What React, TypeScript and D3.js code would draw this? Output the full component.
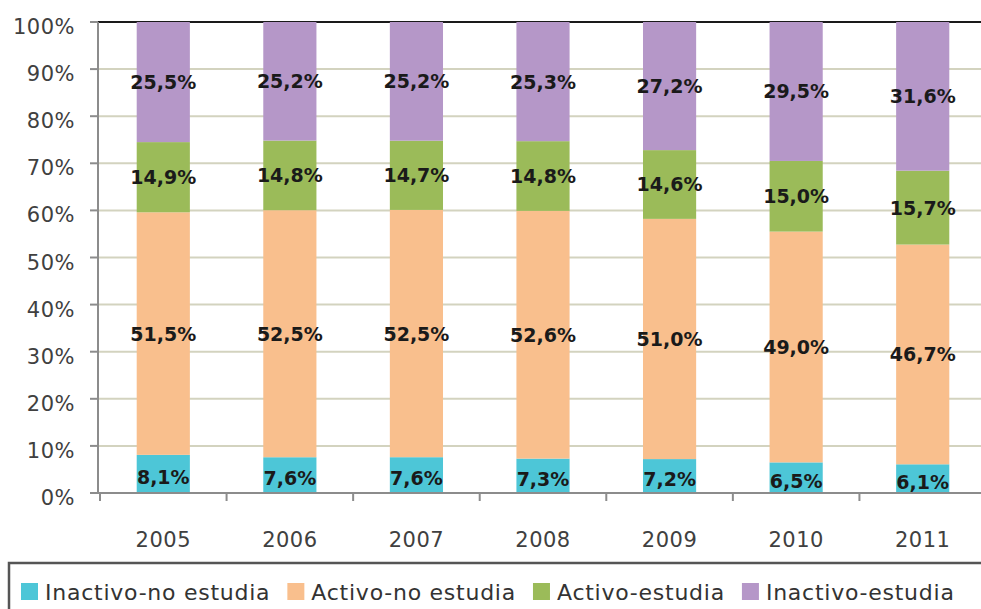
import React, { useEffect, useRef } from "react";
import * as d3 from "d3";

const years = ["2005", "2006", "2007", "2008", "2009", "2010", "2011"];
const inactivoNoEstudia = [8.1, 7.6, 7.6, 7.3, 7.2, 6.5, 6.1];
const activoNoEstudia = [51.5, 52.5, 52.5, 52.6, 51.0, 49.0, 46.7];
const activoEstudia = [14.9, 14.8, 14.7, 14.8, 14.6, 15.0, 15.7];
const inactivoEstudia = [25.5, 25.2, 25.2, 25.3, 27.2, 29.5, 31.6];
const seriesNames = ["Inactivo-no estudia", "Activo-no estudia", "Activo-estudia", "Inactivo-estudia"];
const seriesColors = ["#4DC6D7", "#F9BF8D", "#9BBB59", "#B597C8"];
const yTicks = [0, 0.1, 0.2, 0.3, 0.4, 0.5, 0.6, 0.7, 0.8, 0.9, 1];

const W = 981;
const H = 609;
const FONT = "'DejaVu Sans', sans-serif";

export default function App() {
  const ref = useRef<SVGSVGElement | null>(null);

  useEffect(() => {
    const svg = d3.select(ref.current);
    svg.selectAll("*").remove();

    const left = 98, right = 984, top = 22, bottom = 493;
    const keys = ["s0", "s1", "s2", "s3"];
    const rows = years.map((y, i) => ({
      year: y,
      s0: inactivoNoEstudia[i],
      s1: activoNoEstudia[i],
      s2: activoEstudia[i],
      s3: inactivoEstudia[i],
    }));
    const stacked = d3.stack<any>().keys(keys).offset(d3.stackOffsetExpand)(rows);

    const pi = 0.58;
    const x = d3.scaleBand<string>().domain(years).range([left + 2, right + 2]).paddingInner(pi).paddingOuter(pi / 2);
    const y = d3.scaleLinear().domain([0, 1]).range([bottom, top]);
    const step = x.step();

    // gridlines
    svg.append("g").selectAll("line").data(yTicks.filter((t) => t > 0 && t < 1)).join("line")
      .attr("x1", left).attr("x2", W).attr("y1", (d) => y(d)).attr("y2", (d) => y(d))
      .attr("stroke", "#d3d3bf").attr("stroke-width", 2);
    // top line
    svg.append("line").attr("x1", left).attr("x2", W).attr("y1", y(1)).attr("y2", y(1))
      .attr("stroke", "#1a1a1a").attr("stroke-width", 2);

    // bars
    const gBars = svg.append("g");
    stacked.forEach((layer, si) => {
      gBars.append("g").selectAll("rect").data(layer).join("rect")
        .attr("x", (d: any) => x(d.data.year)!)
        .attr("width", x.bandwidth())
        .attr("y", (d: any) => y(d[1]))
        .attr("height", (d: any) => y(d[0]) - y(d[1]))
        .attr("fill", seriesColors[si]);
    });

    // labels
    const raw = [inactivoNoEstudia, activoNoEstudia, activoEstudia, inactivoEstudia];
    stacked.forEach((layer, si) => {
      svg.append("g").selectAll("text").data(layer).join("text")
        .attr("x", (d: any) => x(d.data.year)! + x.bandwidth() / 2)
        .attr("y", (d: any) => (y(d[0]) + y(d[1])) / 2 + (si === 0 ? 10 : 7))
        .attr("text-anchor", "middle")
        .attr("font-family", FONT)
        .attr("font-weight", "bold")
        .attr("font-size", 19)
        .attr("fill", "#1a1a1a")
        .text((d: any, i: number) => raw[si][i].toFixed(1).replace(".", ",") + "%");
    });

    // y axis
    svg.append("line").attr("x1", left).attr("x2", left).attr("y1", top).attr("y2", bottom + 1)
      .attr("stroke", "#8c8c8c").attr("stroke-width", 2);
    svg.append("g").selectAll("line").data(yTicks).join("line")
      .attr("x1", 90).attr("x2", left).attr("y1", (d) => y(d)).attr("y2", (d) => y(d))
      .attr("stroke", "#8c8c8c").attr("stroke-width", 2);
    svg.append("g").selectAll("text").data(yTicks).join("text")
      .attr("x", 75).attr("y", (d) => y(d) + 12)
      .attr("text-anchor", "end").attr("font-family", FONT).attr("font-size", 21)
      .attr("letter-spacing", 0.5)
      .attr("fill", "#404040")
      .text((d) => Math.round(d * 100) + "%");

    // x axis
    svg.append("line").attr("x1", left).attr("x2", W).attr("y1", bottom).attr("y2", bottom)
      .attr("stroke", "#8c8c8c").attr("stroke-width", 2);
    svg.append("g").selectAll("line").data(years).join("line")
      .attr("x1", (d) => x(d)! - (step * pi) / 2).attr("x2", (d) => x(d)! - (step * pi) / 2)
      .attr("y1", bottom).attr("y2", bottom + 8)
      .attr("stroke", "#8c8c8c").attr("stroke-width", 2);
    svg.append("g").selectAll("text").data(years).join("text")
      .attr("x", (d) => x(d)! + x.bandwidth() / 2).attr("y", 547)
      .attr("text-anchor", "middle").attr("font-family", FONT).attr("font-size", 21)
      .attr("letter-spacing", 0.5)
      .attr("fill", "#404040").text((d) => d);

    // legend
    svg.append("rect").attr("x", 9).attr("y", 563).attr("width", W + 20).attr("height", 80)
      .attr("fill", "none").attr("stroke", "#555").attr("stroke-width", 2.5);
    let lx = 21;
    seriesNames.forEach((name, i) => {
      svg.append("rect").attr("x", lx).attr("y", 583).attr("width", 17).attr("height", 17)
        .attr("fill", seriesColors[i]);
      const t = svg.append("text").attr("x", lx + 24).attr("y", 600)
        .attr("font-family", FONT).attr("font-size", 22).attr("letter-spacing", 0.75)
        .attr("fill", "#333").text(name);
      const w = (t.node() as SVGTextElement).getComputedTextLength();
      lx = lx + 24 + w + 17;
    });
  }, []);

  return (
    <svg
      ref={ref}
      width={W}
      height={H}
      style={{ position: "absolute", left: 0, top: 0, background: "#fff" }}
    />
  );
}
